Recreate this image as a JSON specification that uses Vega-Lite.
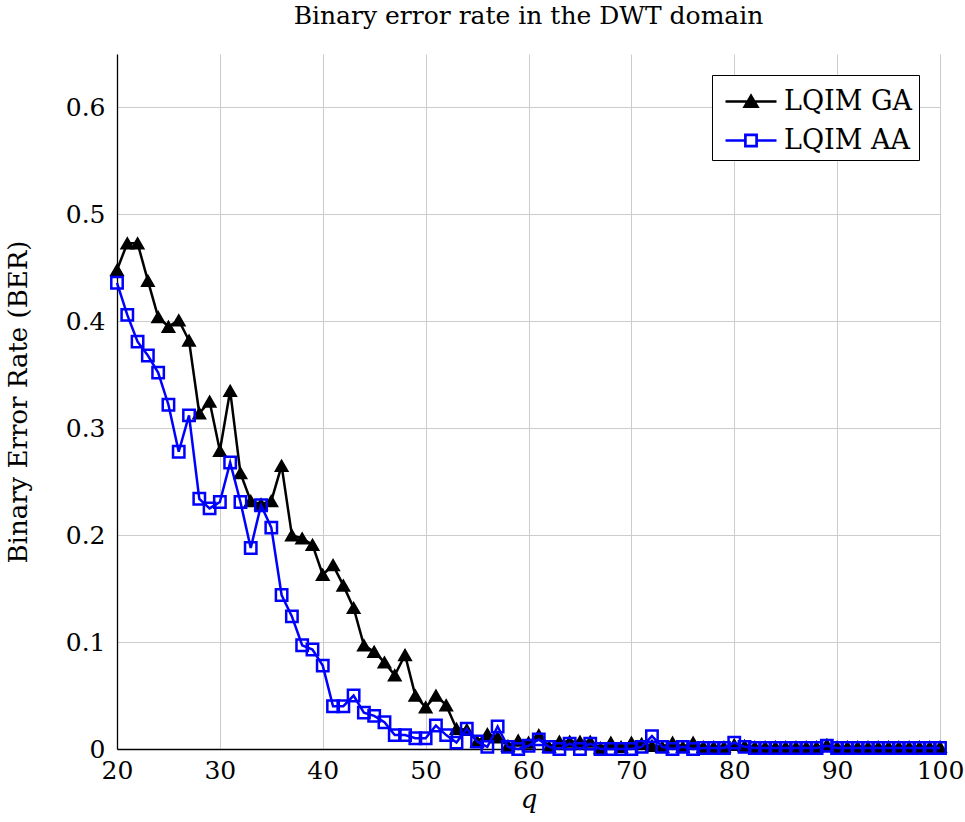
{
  "$schema": "https://vega.github.io/schema/vega-lite/v6.json",
  "width": 823,
  "height": 695,
  "autosize": {"type": "none"},
  "padding": {"left": 117, "top": 54, "right": 25, "bottom": 73},
  "background": "white",
  "title": {
    "text": "Binary error rate in the DWT domain",
    "font": "DejaVu Serif",
    "fontSize": 25,
    "fontWeight": "normal",
    "color": "black",
    "offset": 25,
    "anchor": "middle"
  },
  "config": {
    "view": {"stroke": null},
    "font": "DejaVu Serif",
    "axis": {
      "labelFont": "DejaVu Serif",
      "titleFont": "DejaVu Serif",
      "labelFontSize": 25,
      "titleFontSize": 26,
      "titleFontWeight": "normal",
      "labelColor": "black",
      "titleColor": "black",
      "gridColor": "#cccccc",
      "gridWidth": 1,
      "domainColor": "black",
      "domainWidth": 1.3,
      "tickSize": 0
    }
  },
  "datasets": {
    "ber": [
      {"q": 20, "series": "LQIM GA", "ber": 0.448},
      {"q": 21, "series": "LQIM GA", "ber": 0.473},
      {"q": 22, "series": "LQIM GA", "ber": 0.473},
      {"q": 23, "series": "LQIM GA", "ber": 0.438},
      {"q": 24, "series": "LQIM GA", "ber": 0.404},
      {"q": 25, "series": "LQIM GA", "ber": 0.395},
      {"q": 26, "series": "LQIM GA", "ber": 0.401},
      {"q": 27, "series": "LQIM GA", "ber": 0.382},
      {"q": 28, "series": "LQIM GA", "ber": 0.314},
      {"q": 29, "series": "LQIM GA", "ber": 0.325},
      {"q": 30, "series": "LQIM GA", "ber": 0.279},
      {"q": 31, "series": "LQIM GA", "ber": 0.335},
      {"q": 32, "series": "LQIM GA", "ber": 0.258},
      {"q": 33, "series": "LQIM GA", "ber": 0.232},
      {"q": 34, "series": "LQIM GA", "ber": 0.229},
      {"q": 35, "series": "LQIM GA", "ber": 0.232},
      {"q": 36, "series": "LQIM GA", "ber": 0.265},
      {"q": 37, "series": "LQIM GA", "ber": 0.200},
      {"q": 38, "series": "LQIM GA", "ber": 0.197},
      {"q": 39, "series": "LQIM GA", "ber": 0.191},
      {"q": 40, "series": "LQIM GA", "ber": 0.163},
      {"q": 41, "series": "LQIM GA", "ber": 0.172},
      {"q": 42, "series": "LQIM GA", "ber": 0.153},
      {"q": 43, "series": "LQIM GA", "ber": 0.132},
      {"q": 44, "series": "LQIM GA", "ber": 0.097},
      {"q": 45, "series": "LQIM GA", "ber": 0.091},
      {"q": 46, "series": "LQIM GA", "ber": 0.081},
      {"q": 47, "series": "LQIM GA", "ber": 0.069},
      {"q": 48, "series": "LQIM GA", "ber": 0.088},
      {"q": 49, "series": "LQIM GA", "ber": 0.050},
      {"q": 50, "series": "LQIM GA", "ber": 0.039},
      {"q": 51, "series": "LQIM GA", "ber": 0.050},
      {"q": 52, "series": "LQIM GA", "ber": 0.041},
      {"q": 53, "series": "LQIM GA", "ber": 0.019},
      {"q": 54, "series": "LQIM GA", "ber": 0.018},
      {"q": 55, "series": "LQIM GA", "ber": 0.007},
      {"q": 56, "series": "LQIM GA", "ber": 0.014},
      {"q": 57, "series": "LQIM GA", "ber": 0.011},
      {"q": 58, "series": "LQIM GA", "ber": 0.003},
      {"q": 59, "series": "LQIM GA", "ber": 0.008},
      {"q": 60, "series": "LQIM GA", "ber": 0.006},
      {"q": 61, "series": "LQIM GA", "ber": 0.013},
      {"q": 62, "series": "LQIM GA", "ber": 0.002},
      {"q": 63, "series": "LQIM GA", "ber": 0.007},
      {"q": 64, "series": "LQIM GA", "ber": 0.007},
      {"q": 65, "series": "LQIM GA", "ber": 0.007},
      {"q": 66, "series": "LQIM GA", "ber": 0.007},
      {"q": 67, "series": "LQIM GA", "ber": 0.001},
      {"q": 68, "series": "LQIM GA", "ber": 0.006},
      {"q": 69, "series": "LQIM GA", "ber": 0.002},
      {"q": 70, "series": "LQIM GA", "ber": 0.006},
      {"q": 71, "series": "LQIM GA", "ber": 0.005},
      {"q": 72, "series": "LQIM GA", "ber": 0.003},
      {"q": 73, "series": "LQIM GA", "ber": 0.002},
      {"q": 74, "series": "LQIM GA", "ber": 0.006},
      {"q": 75, "series": "LQIM GA", "ber": 0.002},
      {"q": 76, "series": "LQIM GA", "ber": 0.006},
      {"q": 77, "series": "LQIM GA", "ber": 0.002},
      {"q": 78, "series": "LQIM GA", "ber": 0.002},
      {"q": 79, "series": "LQIM GA", "ber": 0.002},
      {"q": 80, "series": "LQIM GA", "ber": 0.004},
      {"q": 81, "series": "LQIM GA", "ber": 0.003},
      {"q": 82, "series": "LQIM GA", "ber": 0.002},
      {"q": 83, "series": "LQIM GA", "ber": 0.002},
      {"q": 84, "series": "LQIM GA", "ber": 0.002},
      {"q": 85, "series": "LQIM GA", "ber": 0.002},
      {"q": 86, "series": "LQIM GA", "ber": 0.002},
      {"q": 87, "series": "LQIM GA", "ber": 0.002},
      {"q": 88, "series": "LQIM GA", "ber": 0.002},
      {"q": 89, "series": "LQIM GA", "ber": 0.004},
      {"q": 90, "series": "LQIM GA", "ber": 0.002},
      {"q": 91, "series": "LQIM GA", "ber": 0.002},
      {"q": 92, "series": "LQIM GA", "ber": 0.002},
      {"q": 93, "series": "LQIM GA", "ber": 0.002},
      {"q": 94, "series": "LQIM GA", "ber": 0.002},
      {"q": 95, "series": "LQIM GA", "ber": 0.002},
      {"q": 96, "series": "LQIM GA", "ber": 0.002},
      {"q": 97, "series": "LQIM GA", "ber": 0.002},
      {"q": 98, "series": "LQIM GA", "ber": 0.002},
      {"q": 99, "series": "LQIM GA", "ber": 0.002},
      {"q": 100, "series": "LQIM GA", "ber": 0.002},
      {"q": 20, "series": "LQIM AA", "ber": 0.436},
      {"q": 21, "series": "LQIM AA", "ber": 0.406},
      {"q": 22, "series": "LQIM AA", "ber": 0.381},
      {"q": 23, "series": "LQIM AA", "ber": 0.368},
      {"q": 24, "series": "LQIM AA", "ber": 0.352},
      {"q": 25, "series": "LQIM AA", "ber": 0.322},
      {"q": 26, "series": "LQIM AA", "ber": 0.278},
      {"q": 27, "series": "LQIM AA", "ber": 0.312},
      {"q": 28, "series": "LQIM AA", "ber": 0.234},
      {"q": 29, "series": "LQIM AA", "ber": 0.225},
      {"q": 30, "series": "LQIM AA", "ber": 0.231},
      {"q": 31, "series": "LQIM AA", "ber": 0.268},
      {"q": 32, "series": "LQIM AA", "ber": 0.231},
      {"q": 33, "series": "LQIM AA", "ber": 0.188},
      {"q": 34, "series": "LQIM AA", "ber": 0.228},
      {"q": 35, "series": "LQIM AA", "ber": 0.207},
      {"q": 36, "series": "LQIM AA", "ber": 0.144},
      {"q": 37, "series": "LQIM AA", "ber": 0.124},
      {"q": 38, "series": "LQIM AA", "ber": 0.097},
      {"q": 39, "series": "LQIM AA", "ber": 0.093},
      {"q": 40, "series": "LQIM AA", "ber": 0.078},
      {"q": 41, "series": "LQIM AA", "ber": 0.040},
      {"q": 42, "series": "LQIM AA", "ber": 0.040},
      {"q": 43, "series": "LQIM AA", "ber": 0.050},
      {"q": 44, "series": "LQIM AA", "ber": 0.034},
      {"q": 45, "series": "LQIM AA", "ber": 0.031},
      {"q": 46, "series": "LQIM AA", "ber": 0.025},
      {"q": 47, "series": "LQIM AA", "ber": 0.013},
      {"q": 48, "series": "LQIM AA", "ber": 0.013},
      {"q": 49, "series": "LQIM AA", "ber": 0.010},
      {"q": 50, "series": "LQIM AA", "ber": 0.010},
      {"q": 51, "series": "LQIM AA", "ber": 0.022},
      {"q": 52, "series": "LQIM AA", "ber": 0.013},
      {"q": 53, "series": "LQIM AA", "ber": 0.006},
      {"q": 54, "series": "LQIM AA", "ber": 0.019},
      {"q": 55, "series": "LQIM AA", "ber": 0.007},
      {"q": 56, "series": "LQIM AA", "ber": 0.002},
      {"q": 57, "series": "LQIM AA", "ber": 0.021},
      {"q": 58, "series": "LQIM AA", "ber": 0.002},
      {"q": 59, "series": "LQIM AA", "ber": 0.000},
      {"q": 60, "series": "LQIM AA", "ber": 0.003},
      {"q": 61, "series": "LQIM AA", "ber": 0.009},
      {"q": 62, "series": "LQIM AA", "ber": 0.002},
      {"q": 63, "series": "LQIM AA", "ber": 0.000},
      {"q": 64, "series": "LQIM AA", "ber": 0.005},
      {"q": 65, "series": "LQIM AA", "ber": 0.000},
      {"q": 66, "series": "LQIM AA", "ber": 0.005},
      {"q": 67, "series": "LQIM AA", "ber": 0.000},
      {"q": 68, "series": "LQIM AA", "ber": 0.000},
      {"q": 69, "series": "LQIM AA", "ber": 0.000},
      {"q": 70, "series": "LQIM AA", "ber": 0.000},
      {"q": 71, "series": "LQIM AA", "ber": 0.002},
      {"q": 72, "series": "LQIM AA", "ber": 0.012},
      {"q": 73, "series": "LQIM AA", "ber": 0.002},
      {"q": 74, "series": "LQIM AA", "ber": 0.000},
      {"q": 75, "series": "LQIM AA", "ber": 0.002},
      {"q": 76, "series": "LQIM AA", "ber": 0.000},
      {"q": 77, "series": "LQIM AA", "ber": 0.001},
      {"q": 78, "series": "LQIM AA", "ber": 0.001},
      {"q": 79, "series": "LQIM AA", "ber": 0.001},
      {"q": 80, "series": "LQIM AA", "ber": 0.006},
      {"q": 81, "series": "LQIM AA", "ber": 0.002},
      {"q": 82, "series": "LQIM AA", "ber": 0.001},
      {"q": 83, "series": "LQIM AA", "ber": 0.001},
      {"q": 84, "series": "LQIM AA", "ber": 0.001},
      {"q": 85, "series": "LQIM AA", "ber": 0.001},
      {"q": 86, "series": "LQIM AA", "ber": 0.001},
      {"q": 87, "series": "LQIM AA", "ber": 0.001},
      {"q": 88, "series": "LQIM AA", "ber": 0.001},
      {"q": 89, "series": "LQIM AA", "ber": 0.003},
      {"q": 90, "series": "LQIM AA", "ber": 0.001},
      {"q": 91, "series": "LQIM AA", "ber": 0.001},
      {"q": 92, "series": "LQIM AA", "ber": 0.001},
      {"q": 93, "series": "LQIM AA", "ber": 0.001},
      {"q": 94, "series": "LQIM AA", "ber": 0.001},
      {"q": 95, "series": "LQIM AA", "ber": 0.001},
      {"q": 96, "series": "LQIM AA", "ber": 0.001},
      {"q": 97, "series": "LQIM AA", "ber": 0.001},
      {"q": 98, "series": "LQIM AA", "ber": 0.001},
      {"q": 99, "series": "LQIM AA", "ber": 0.001},
      {"q": 100, "series": "LQIM AA", "ber": 0.001}
    ]
  },
  "data": {"name": "ber"},
  "encoding": {
    "x": {
      "field": "q",
      "type": "quantitative",
      "scale": {"domain": [20, 100], "nice": false, "zero": false},
      "axis": {
        "title": "q",
        "titleFontStyle": "italic",
        "values": [20, 30, 40, 50, 60, 70, 80, 90, 100],
        "labelPadding": 9,
        "titlePadding": 3,
        "labelFlush": false
      }
    },
    "y": {
      "field": "ber",
      "type": "quantitative",
      "scale": {"domain": [0, 0.65], "nice": false},
      "axis": {
        "title": "Binary Error Rate (BER)",
        "values": [0, 0.1, 0.2, 0.3, 0.4, 0.5, 0.6],
        "format": ".1~f",
        "labelPadding": 12,
        "titlePadding": 34,
        "labelFlush": false
      }
    },
    "color": {
      "field": "series",
      "type": "nominal",
      "scale": {"domain": ["LQIM GA", "LQIM AA"], "range": ["#000000", "#0000ff"]},
      "legend": {
        "title": null,
        "orient": "top-right",
        "offset": 21,
        "padding": 6,
        "strokeColor": "black",
        "fillColor": "white",
        "labelFont": "DejaVu Serif",
        "labelFontSize": 27,
        "labelColor": "black",
        "labelOffset": 25,
        "symbolSize": 1444,
        "symbolStrokeWidth": 2.5,
        "rowPadding": 5,
        "encode": {
          "symbols": {
            "update": {
              "shape": {"signal": "datum.value === 'LQIM GA' ? 'M-0.684,0H2M0.318,0.28L0.658,-0.3L0.998,0.28Z' : 'M-0.684,0H0.358M0.958,0H2M0.358,-0.3H0.958V0.3H0.358ZM0.368,-0.29V0.29H0.948V-0.29Z'"},
              "strokeWidth": {"value": 2.5}
            }
          }
        }
      }
    }
  },
  "layer": [
    {
      "transform": [{"filter": "datum.series === 'LQIM GA'"}],
      "mark": {"type": "line", "strokeWidth": 2.5}
    },
    {
      "transform": [{"filter": "datum.series === 'LQIM GA'"}],
      "mark": {"type": "point", "shape": "triangle-up", "filled": true, "size": 160, "stroke": "black", "strokeWidth": 1.5, "opacity": 1}
    },
    {
      "transform": [{"filter": "datum.series === 'LQIM AA'"}],
      "mark": {"type": "line", "strokeWidth": 2.5}
    },
    {
      "transform": [{"filter": "datum.series === 'LQIM AA'"}],
      "mark": {"type": "point", "shape": "square", "filled": false, "size": 130, "strokeWidth": 2.5, "opacity": 1}
    },
    {
      "data": {"values": [{"k": 1}]},
      "mark": {"type": "point", "shape": "triangle-up", "filled": true, "size": 60, "color": "black", "opacity": 1, "yOffset": 2},
      "encoding": {
        "x": {"datum": 20, "type": "quantitative"},
        "y": {"datum": 0.65, "type": "quantitative"},
        "color": {"value": "black"}
      }
    },
    {
      "data": {"values": [{"k": 1}]},
      "mark": {"type": "point", "shape": "triangle-right", "filled": true, "size": 60, "color": "black", "opacity": 1, "xOffset": 4},
      "encoding": {
        "x": {"datum": 100, "type": "quantitative"},
        "y": {"datum": 0, "type": "quantitative"},
        "color": {"value": "black"}
      }
    }
  ]
}
